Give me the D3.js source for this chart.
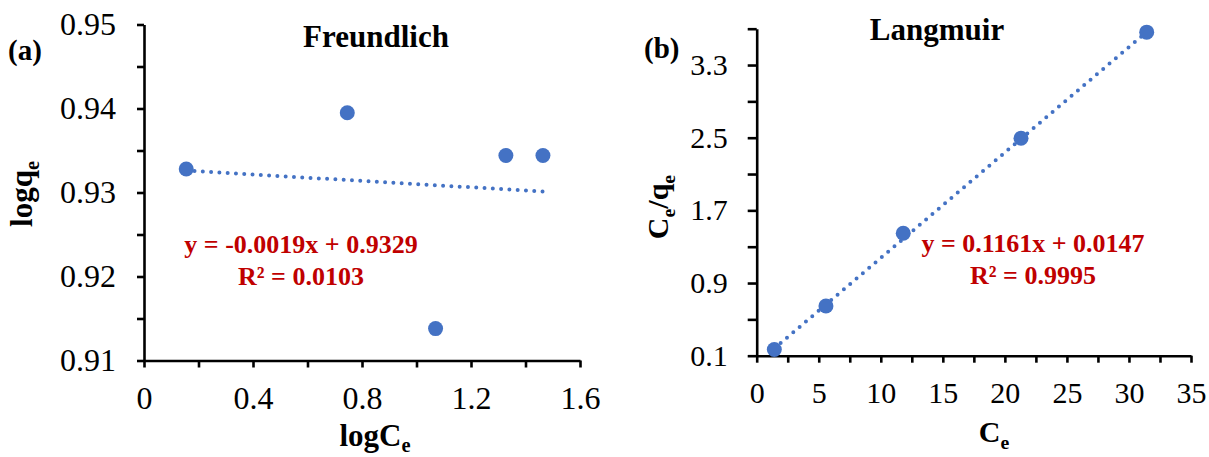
<!DOCTYPE html>
<html>
<head>
<meta charset="utf-8">
<script src="https://cdn.jsdelivr.net/npm/d3@7"></script>
<style>
  html, body { margin: 0; padding: 0; background: #ffffff; }
  svg { display: block; }
  svg, svg text, svg tspan {
    font-family: "Times New Roman", "Liberation Serif", Times, "Noto Serif", "DejaVu Serif", serif;
  }
</style>
</head>
<body>
<svg id="chart" width="1209" height="457"></svg>
<script>
// ---- Freundlich isotherm: logCe vs logqe ----
const freundlichLogCe = [0.155, 0.746, 1.070, 1.328, 1.464];
const freundlichLogQe = [0.9328, 0.9395, 0.9138, 0.9344, 0.9344];
const freundlichFit = { slope: -0.0019, intercept: 0.9329, r2: "0.0103" };
const freundlichXTicks = [0, 0.2, 0.4, 0.6, 0.8, 1.0, 1.2, 1.4, 1.6];
const freundlichXLabels = [0, 0.4, 0.8, 1.2, 1.6];
const freundlichYTicks = [0.91, 0.915, 0.92, 0.925, 0.93, 0.935, 0.94, 0.945, 0.95];
const freundlichYLabels = [0.91, 0.92, 0.93, 0.94, 0.95];

// ---- Langmuir isotherm: Ce vs Ce/qe ----
const langmuirCe = [1.42, 5.58, 11.81, 21.3, 31.43];
const langmuirCeQe = [0.168, 0.647, 1.448, 2.494, 3.662];
const langmuirFit = { slope: 0.1161, intercept: 0.0147, r2: "0.9995" };
const langmuirXTicks = [0, 2.5, 5, 7.5, 10, 12.5, 15, 17.5, 20, 22.5, 25, 27.5, 30, 32.5, 35];
const langmuirXLabels = [0, 5, 10, 15, 20, 25, 30, 35];
const langmuirYTicks = [0.1, 0.5, 0.9, 1.3, 1.7, 2.1, 2.5, 2.9, 3.3, 3.7];
const langmuirYLabels = [0.1, 0.9, 1.7, 2.5, 3.3];

const BLUE = "#4472C4";
const RED = "#C00000";
const SERIF = '"Times New Roman", "Liberation Serif", Times, "Noto Serif", "DejaVu Serif", serif';
const svg = d3.select("#chart").style("font-family", SERIF);

function isLabel(list, v) {
  return list.some(l => Math.abs(l - v) < 1e-9);
}

function drawPanel(cfg) {
  const g = svg.append("g");
  const x = d3.scaleLinear().domain(cfg.xDomain).range(cfg.xRange);
  const y = d3.scaleLinear().domain(cfg.yDomain).range(cfg.yRange);

  const xAxis = d3.axisBottom(x)
    .tickValues(cfg.xTicks)
    .tickSizeInner(7).tickSizeOuter(0)
    .tickPadding(cfg.xPad)
    .tickFormat(v => isLabel(cfg.xLabels, v) ? cfg.xFmt(v) : "");
  const yAxis = d3.axisLeft(y)
    .tickValues(cfg.yTicks)
    .tickSizeInner(cfg.yTick).tickSizeOuter(0)
    .tickPadding(cfg.yPad)
    .tickFormat(v => isLabel(cfg.yLabels, v) ? cfg.yFmt(v) : "");

  const gx = g.append("g").attr("transform", `translate(0,${cfg.yRange[0]})`).call(xAxis);
  const gy = g.append("g").attr("transform", `translate(${cfg.xRange[0]},0)`).call(yAxis);
  [gx, gy].forEach(a => {
    a.attr("font-family", null).attr("font-size", null);
    a.select(".domain").attr("stroke", "#000").attr("stroke-width", 2.6);
    a.selectAll(".tick line").attr("stroke", "#000").attr("stroke-width", 2.6);
    a.selectAll(".tick text")
      .attr("fill", "#000")
      .style("font-family", SERIF)
      .style("font-size", cfg.tickFont + "px");
  });

  // linear trendline from the fitted equation, across the data range
  const x0 = d3.min(cfg.xs), x1 = d3.max(cfg.xs);
  const fitPts = [x0, x1].map(v => [x(v), y(cfg.fit.slope * v + cfg.fit.intercept)]);
  g.append("path")
    .attr("d", d3.line()(fitPts))
    .attr("fill", "none")
    .attr("stroke", BLUE)
    .attr("stroke-width", 4)
    .attr("stroke-linecap", "round")
    .attr("stroke-dasharray", "0 8.3");

  g.selectAll("circle.pt")
    .data(cfg.xs.map((v, i) => [v, cfg.ys[i]]))
    .join("circle")
    .attr("class", "pt")
    .attr("cx", d => x(d[0]))
    .attr("cy", d => y(d[1]))
    .attr("r", 7.5)
    .attr("fill", BLUE);

  // panel letter and title
  g.append("text")
    .attr("x", cfg.letterPos[0]).attr("y", cfg.letterPos[1])
    .style("font-family", SERIF)
    .attr("font-weight", "bold").attr("font-size", 29)
    .text(cfg.letter);
  g.append("text")
    .attr("x", cfg.titlePos[0]).attr("y", cfg.titlePos[1])
    .attr("text-anchor", "middle")
    .style("font-family", SERIF)
    .attr("font-weight", "bold").attr("font-size", 31)
    .text(cfg.title);

  // equation and R²
  const fmtSigned = v => (v < 0 ? "-" : "") + Math.abs(v).toFixed(4);
  const eq = g.append("text")
    .attr("text-anchor", "middle")
    .style("font-family", SERIF)
    .attr("font-weight", "bold").attr("font-size", 26)
    .attr("fill", RED);
  eq.append("tspan")
    .attr("x", cfg.eqPos[0]).attr("y", cfg.eqPos[1])
    .text(`y = ${fmtSigned(cfg.fit.slope)}x + ${cfg.fit.intercept.toFixed(4)}`);
  eq.append("tspan")
    .attr("x", cfg.eqPos[0]).attr("y", cfg.eqPos[1] + 32)
    .text(`R² = ${cfg.fit.r2}`);

  // x-axis title with subscript
  const xt = g.append("text")
    .attr("x", cfg.xTitlePos[0]).attr("y", cfg.xTitlePos[1])
    .attr("text-anchor", "middle")
    .style("font-family", SERIF)
    .attr("font-weight", "bold").attr("font-size", cfg.titleFont);
  cfg.xTitle.forEach(p => {
    xt.append("tspan")
      .attr("font-size", p.sub ? cfg.titleFont * 0.66 : cfg.titleFont)
      .attr("dy", p.dy || 0)
      .text(p.t);
  });

  // y-axis title, rotated, with subscripts
  const yt = g.append("text")
    .attr("transform", `translate(${cfg.yTitlePos[0]},${cfg.yTitlePos[1]}) rotate(-90)`)
    .attr("text-anchor", "middle")
    .style("font-family", SERIF)
    .attr("font-weight", "bold").attr("font-size", cfg.titleFont);
  cfg.yTitle.forEach(p => {
    yt.append("tspan")
      .attr("font-size", p.sub ? cfg.titleFont * 0.66 : cfg.titleFont)
      .attr("dy", p.dy || 0)
      .text(p.t);
  });
}

drawPanel({
  xs: freundlichLogCe, ys: freundlichLogQe, fit: freundlichFit,
  xDomain: [0, 1.6], xRange: [144, 580],
  yDomain: [0.91, 0.95], yRange: [360.5, 24.5],
  xTicks: freundlichXTicks, xLabels: freundlichXLabels, xFmt: d3.format(".1~f"),
  yTicks: freundlichYTicks, yLabels: freundlichYLabels, yFmt: d3.format(".2f"),
  xPad: 19, yTick: 7, yPad: 21, tickFont: 32,
  letter: "(a)", letterPos: [8, 60],
  title: "Freundlich", titlePos: [376, 47],
  eqPos: [301, 253],
  titleFont: 31,
  xTitle: [{ t: "logC" }, { t: "e", sub: true, dy: 6 }], xTitlePos: [375, 446],
  yTitle: [{ t: "logq" }, { t: "e", sub: true, dy: 7 }], yTitlePos: [32, 194]
});

drawPanel({
  xs: langmuirCe, ys: langmuirCeQe, fit: langmuirFit,
  xDomain: [0, 35], xRange: [756.7, 1191],
  yDomain: [0.1, 3.7], yRange: [355.7, 28.7],
  xTicks: langmuirXTicks, xLabels: langmuirXLabels, xFmt: d3.format("d"),
  yTicks: langmuirYTicks, yLabels: langmuirYLabels, yFmt: d3.format(".1f"),
  xPad: 19, yTick: 9, yPad: 20, tickFont: 30,
  letter: "(b)", letterPos: [644, 58],
  title: "Langmuir", titlePos: [937, 40],
  eqPos: [1033, 252],
  titleFont: 30,
  xTitle: [{ t: "C" }, { t: "e", sub: true, dy: 7 }], xTitlePos: [994, 442],
  yTitle: [{ t: "C" }, { t: "e", sub: true, dy: 7 }, { t: "/q", dy: -7 }, { t: "e", sub: true, dy: 7 }],
  yTitlePos: [668, 207]
});
</script>
</body>
</html>
